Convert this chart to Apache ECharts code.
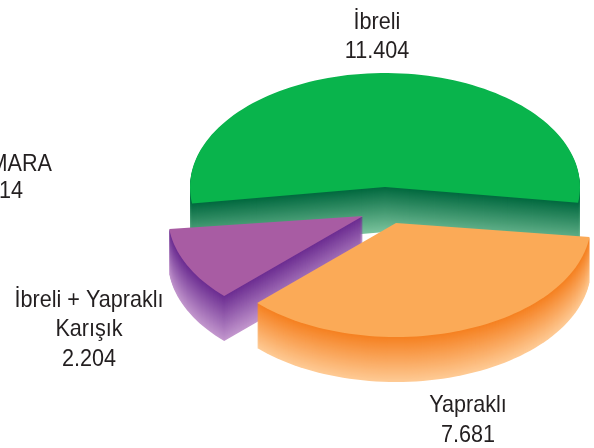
<!DOCTYPE html>
<html><head><meta charset="utf-8">
<style>html,body{margin:0;padding:0;background:#fff;overflow:hidden}#c{width:594px;height:448px}</style>
<script src="https://cdn.jsdelivr.net/npm/echarts@6/dist/echarts.min.js"></script>
</head><body><div id="c"></div>
<script>
const categories = ['İbreli', 'Yapraklı', 'İbreli + Yapraklı\nKarışık'];
const values = [11404, 7681, 2204];
const valueLabels = ['11.404', '7.681', '2.204'];
const clippedLabels = ['MARA', '14'];

// layout and styles
const CX = 385, CY = 187, RX = 195, RY = 114, DEPTH = 45, START = 7;
const drawOrder = [0, 2, 1];
const offsets = { 0: [0, 0], 1: [11, 36], 2: [-22, 29] };
const nudge = { 0: [-2.5, 1], 1: [0, -1.5], 2: [-1.5, -0.7] };
const topColor = { 0: '#09B44C', 1: '#FBAA57', 2: '#A85CA3' };
const wallFrom = { 0: [0, 104, 62], 1: [245, 128, 32], 2: [107, 44, 145] };
const wallTo = { 0: [122, 194, 156], 1: [254, 202, 148], 2: [194, 150, 205] };
const labelPos = { 0: [377, 37], 1: [468, 420.5], 2: [89, 329.5] };
const FONT = '"Liberation Sans",sans-serif';
const FS = 24, LH = 29.5, SQUEEZE = 0.9;

const total = values.reduce((a, b) => a + b, 0);
const ordered = [1, 2, 0];
const angles = {};
let acc = START;
ordered.forEach(i => {
  const span = values[i] / total * 360;
  angles[i] = [acc + nudge[i][0], acc + span + nudge[i][1]];
  acc += span;
});

function wedge(i, dy) {
  const [a0, a1] = angles[i], [ox, oy] = offsets[i];
  const pts = [[CX + ox, CY + oy + dy]];
  const n = Math.ceil((a1 - a0) / 2);
  for (let k = 0; k <= n; k++) {
    const t = (a0 + (a1 - a0) * k / n) * Math.PI / 180;
    pts.push([CX + ox + RX * Math.cos(t), CY + oy + dy + RY * Math.sin(t)]);
  }
  return pts;
}
function lerp(a, b, f) {
  return 'rgb(' + a.map((v, j) => Math.round(v + (b[j] - v) * f)).join(',') + ')';
}

function renderSlice(params, api) {
  const i = drawOrder[params.dataIndex];
  const children = [];
  for (let d = DEPTH; d >= 1; d--) {
    children.push({
      type: 'polygon', shape: { points: wedge(i, d) },
      style: { fill: lerp(wallFrom[i], wallTo[i], d / DEPTH) }, silent: true
    });
  }
  children.push({
    type: 'polygon', shape: { points: wedge(i, 0) },
    style: { fill: topColor[i] }, silent: true
  });
  return { type: 'group', children };
}

function renderLabel(params, api) {
  const i = params.dataIndex;
  const [x, y] = labelPos[i];
  return {
    type: 'text', x, y, scaleX: SQUEEZE,
    style: {
      text: categories[i] + '\n' + valueLabels[i],
      font: FS + 'px ' + FONT, fill: '#231F20', align: 'center',
      verticalAlign: 'middle', lineHeight: LH
    }, silent: true
  };
}

function renderClipped(params, api) {
  const i = params.dataIndex;
  return {
    type: 'text', x: i === 0 ? 52 : 23, y: i === 0 ? 164 : 191, scaleX: SQUEEZE,
    style: {
      text: clippedLabels[i], font: FS + 'px ' + FONT, fill: '#231F20',
      align: 'right', verticalAlign: 'middle'
    }, silent: true
  };
}

const chart = echarts.init(document.getElementById('c'), null, { renderer: 'canvas' });
chart.setOption({
  animation: false,
  backgroundColor: '#fff',
  series: [
    { type: 'custom', coordinateSystem: 'none', renderItem: renderSlice,
      data: drawOrder.map(i => ({ name: categories[i], value: values[i] })), z: 1 },
    { type: 'custom', coordinateSystem: 'none', renderItem: renderLabel,
      data: categories.map((c, i) => ({ name: c, value: values[i] })), z: 2 },
    { type: 'custom', coordinateSystem: 'none', renderItem: renderClipped,
      data: clippedLabels, z: 2 }
  ]
});
</script></body></html>
